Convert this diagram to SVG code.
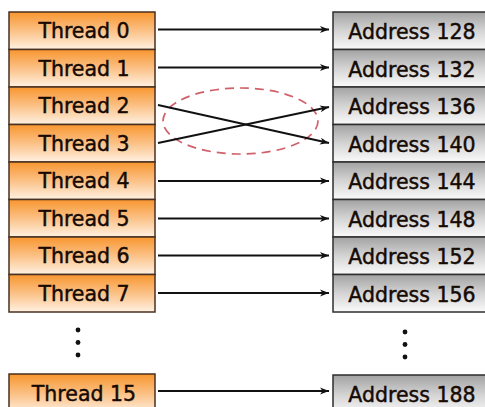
<svg xmlns="http://www.w3.org/2000/svg" width="485" height="407" viewBox="0 0 485 407">
<defs>
<linearGradient id="og" x1="0" y1="0" x2="0" y2="1">
<stop offset="0" stop-color="#f8962f"/>
<stop offset="0.5" stop-color="#fbc186"/>
<stop offset="1" stop-color="#fff1e2"/>
</linearGradient>
<linearGradient id="gg" x1="0" y1="0" x2="0" y2="1">
<stop offset="0" stop-color="#a2a2a2"/>
<stop offset="0.5" stop-color="#d4d4d4"/>
<stop offset="1" stop-color="#fafafa"/>
</linearGradient>
<marker id="ah" markerWidth="10" markerHeight="8" refX="9" refY="4" orient="auto" markerUnits="userSpaceOnUse">
<path d="M0,0.5 L9,4 L0,7.5 L2.5,4 Z" fill="#111"/>
</marker>
<style>
.t{fill:url(#og);stroke:#4a3020;stroke-width:1.5}
.a{fill:url(#gg);stroke:#2e2e2e;stroke-width:1.5}
text{font-family:"DejaVu Sans",sans-serif;font-size:20.5px;text-anchor:middle;fill:#150a04;stroke:#150a04;stroke-width:0.45}
.c line{stroke:#111;stroke-width:1.9;marker-end:url(#ah)}
.d{fill:#111}
</style>
</defs>
<rect width="485" height="407" fill="#ffffff"/>
<g id="thread0"><rect class="t" x="9" y="12" width="146" height="37.5"/><text x="84" y="38">Thread 0</text></g>
<g id="thread1"><rect class="t" x="9" y="49.5" width="146" height="37.5"/><text x="84" y="75.5">Thread 1</text></g>
<g id="thread2"><rect class="t" x="9" y="87" width="146" height="37.5"/><text x="84" y="113">Thread 2</text></g>
<g id="thread3"><rect class="t" x="9" y="124.5" width="146" height="37.5"/><text x="84" y="150.5">Thread 3</text></g>
<g id="thread4"><rect class="t" x="9" y="162" width="146" height="37.5"/><text x="84" y="188">Thread 4</text></g>
<g id="thread5"><rect class="t" x="9" y="199.5" width="146" height="37.5"/><text x="84" y="225.5">Thread 5</text></g>
<g id="thread6"><rect class="t" x="9" y="237" width="146" height="37.5"/><text x="84" y="263">Thread 6</text></g>
<g id="thread7"><rect class="t" x="9" y="274.5" width="146" height="37.5"/><text x="84" y="300.5">Thread 7</text></g>
<g id="thread15"><rect class="t" x="9" y="374" width="146" height="40"/><text x="84" y="401">Thread 15</text></g>
<g id="tdots"><circle class="d" cx="78" cy="330" r="2.4"/><circle class="d" cx="78" cy="342.5" r="2.4"/><circle class="d" cx="78" cy="355" r="2.4"/></g>

<g id="addr128"><rect class="a" x="333" y="12" width="160" height="37.5"/><text x="412" y="39">Address 128</text></g>
<g id="addr132"><rect class="a" x="333" y="49.5" width="160" height="37.5"/><text x="412" y="76.5">Address 132</text></g>
<g id="addr136"><rect class="a" x="333" y="87" width="160" height="37.5"/><text x="412" y="114">Address 136</text></g>
<g id="addr140"><rect class="a" x="333" y="124.5" width="160" height="37.5"/><text x="412" y="151.5">Address 140</text></g>
<g id="addr144"><rect class="a" x="333" y="162" width="160" height="37.5"/><text x="412" y="189">Address 144</text></g>
<g id="addr148"><rect class="a" x="333" y="199.5" width="160" height="37.5"/><text x="412" y="226.5">Address 148</text></g>
<g id="addr152"><rect class="a" x="333" y="237" width="160" height="37.5"/><text x="412" y="264">Address 152</text></g>
<g id="addr156"><rect class="a" x="333" y="274.5" width="160" height="37.5"/><text x="412" y="301.5">Address 156</text></g>
<g id="addr188"><rect class="a" x="333" y="375" width="160" height="40"/><text x="412" y="402">Address 188</text></g>
<g id="adots"><circle class="d" cx="405" cy="332" r="2.4"/><circle class="d" cx="405" cy="344.5" r="2.4"/><circle class="d" cx="405" cy="357" r="2.4"/></g>

<g id="conflict"><ellipse cx="240.5" cy="121" rx="77.5" ry="33" fill="none" stroke="#d0606a" stroke-width="1.7" stroke-dasharray="9,6"/></g>

<g class="c" id="connectors">
<line x1="158" y1="29.5" x2="329" y2="29.5"/>
<line x1="158" y1="67.5" x2="329" y2="67.5"/>
<line x1="158" y1="105" x2="329" y2="143"/>
<line x1="158" y1="143" x2="329" y2="107"/>
<line x1="158" y1="181" x2="329" y2="181"/>
<line x1="158" y1="218.5" x2="329" y2="218.5"/>
<line x1="158" y1="255.5" x2="329" y2="255.5"/>
<line x1="158" y1="293" x2="329" y2="293"/>
<line x1="158" y1="391" x2="329" y2="391"/>
</g>
</svg>
